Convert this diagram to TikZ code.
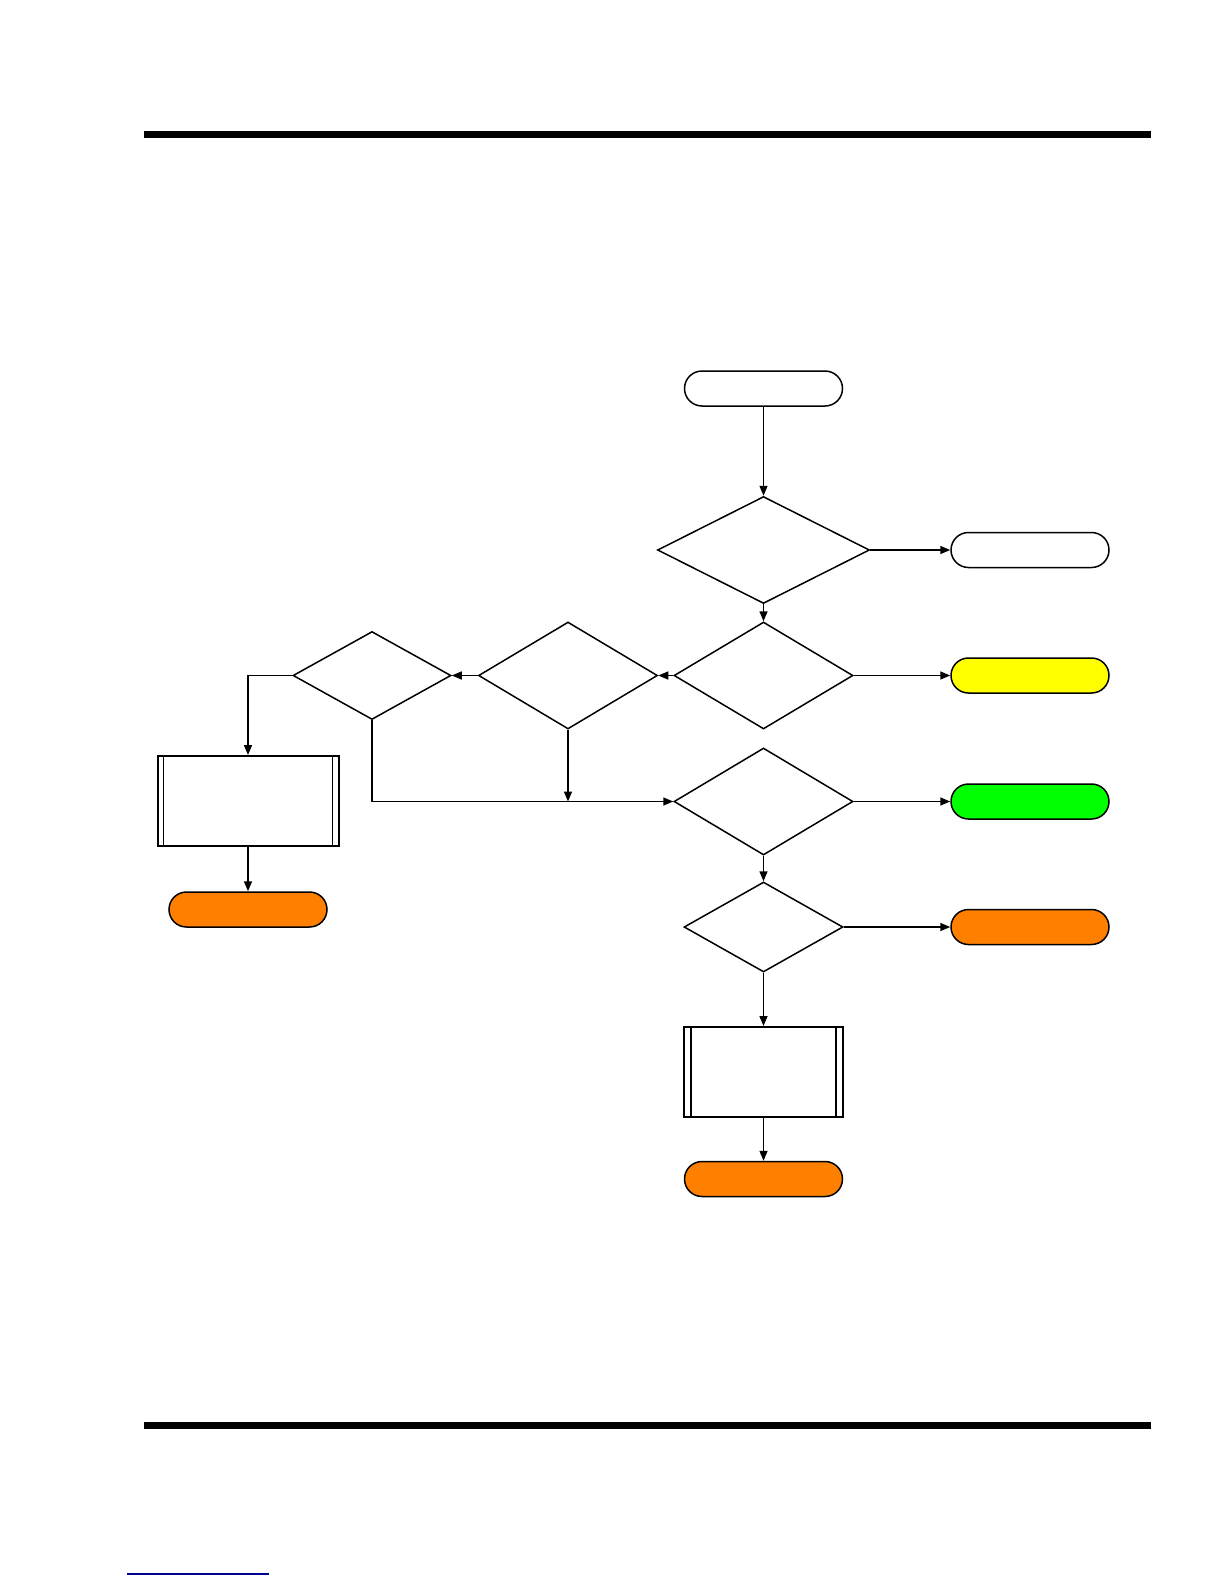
\documentclass[tikz,border=0pt]{standalone}
\usetikzlibrary{shapes.geometric,shapes.misc,arrows.meta}
\definecolor{myorange}{RGB}{255,128,0}
\definecolor{myyellow}{RGB}{255,255,0}
\definecolor{mygreen}{RGB}{0,255,0}
\definecolor{linkblue}{RGB}{0,0,150}
\begin{document}
\begin{tikzpicture}[x=1pt,y=-1pt,
  term/.style={draw,rounded rectangle,line width=1.5pt,inner sep=0pt,minimum width=158pt,minimum height=35pt,fill=white},
  dec/.style={draw,diamond,line width=1.5pt,inner sep=0pt},
  proc/.style={draw,rectangle,line width=2pt,inner sep=0pt},
  arr/.style={line width=1.5pt,-{Triangle[length=10pt,width=8pt]}}]
\useasboundingbox (0,0) rectangle (1224,1584);
\fill (143.5,131) rectangle (1151,138.5);
\fill (143.5,1421.5) rectangle (1151,1429);
\draw[linkblue,line width=1.5pt] (127,1574) -- (269,1574);

\node[term] (start) at (763.5,388.5) {};
\node[dec,minimum width=212pt,minimum height=107pt] (d1) at (763.5,550) {};
\node[term] (t1) at (1030,550) {};
\node[dec,minimum width=179pt,minimum height=107pt] (d2) at (763.5,675.5) {};
\node[term,fill=myyellow] (t2) at (1030,675.5) {};
\node[dec,minimum width=179pt,minimum height=107pt] (d3) at (568,675.5) {};
\node[dec,minimum width=158pt,minimum height=88pt] (d4) at (372,675.5) {};
\node[proc,minimum width=181pt,minimum height=90pt] (p1) at (248,801) {};
\node[term,fill=myorange] (t3) at (248,909.5) {};
\node[dec,minimum width=179pt,minimum height=107pt] (d5) at (763.5,801.5) {};
\node[term,fill=mygreen] (t4) at (1030,801.5) {};
\node[dec,minimum width=159pt,minimum height=90pt] (d6) at (763.5,927) {};
\node[term,fill=myorange] (t5) at (1030,927) {};
\node[proc,minimum width=159pt,minimum height=90pt] (p2) at (763.5,1072) {};
\node[term,fill=myorange] (t6) at (763.5,1179) {};

\draw[line width=1pt] ([xshift=7pt]p1.north west) -- ([xshift=7pt]p1.south west);
\draw[line width=1pt] ([xshift=-7pt]p1.north east) -- ([xshift=-7pt]p1.south east);
\draw[line width=2pt] ([xshift=8pt]p2.north west) -- ([xshift=8pt]p2.south west);
\draw[line width=2pt] ([xshift=-8pt]p2.north east) -- ([xshift=-8pt]p2.south east);

\draw[arr] (start) -- (d1);
\draw[arr] (d1) -- (t1);
\draw[arr] (d1) -- (d2);
\draw[arr] (d2) -- (t2);
\draw[arr] (d2) -- (d3);
\draw[arr] (d3) -- (d4);
\draw[arr] (d4.west) -| (p1.north);
\draw[arr] (p1) -- (t3);
\draw[arr] (d4.south) |- (d5.west);
\draw[arr] (d3.south) -- (d3.south |- d5.west);
\draw[arr] (d5) -- (t4);
\draw[arr] (d5) -- (d6);
\draw[arr] (d6) -- (t5);
\draw[arr] (d6) -- (p2);
\draw[arr] (p2) -- (t6);
\end{tikzpicture}
\end{document}
